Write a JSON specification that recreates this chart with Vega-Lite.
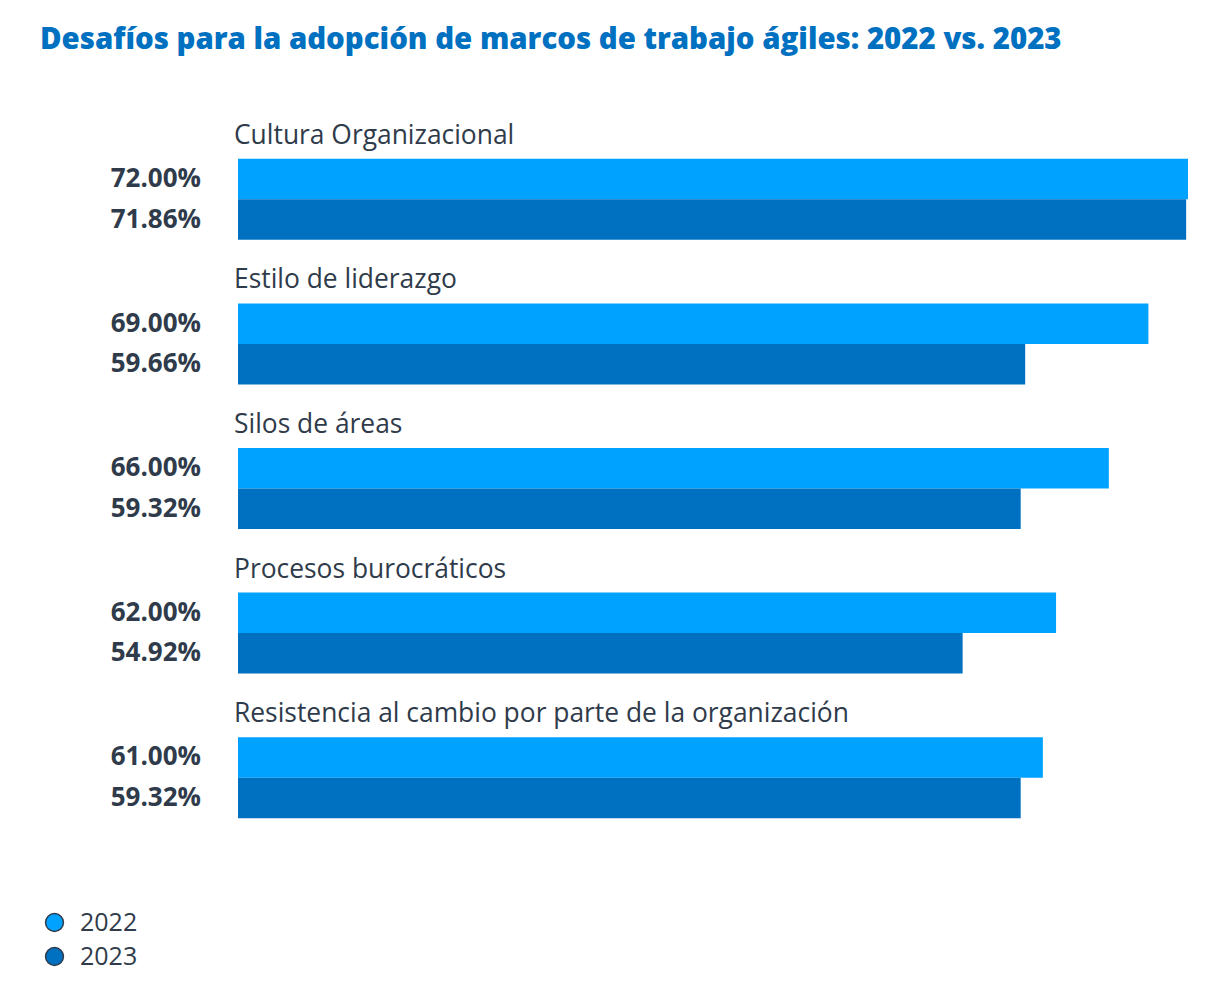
{
  "$schema": "https://vega.github.io/schema/vega-lite/v6.json",
  "width": 950,
  "height": 723,
  "autosize": "none",
  "padding": {"left": 238, "top": 127, "right": 30, "bottom": 157},
  "background": "white",
  "config": {"view": {"stroke": null}, "font": "Open Sans"},
  "title": {
    "text": "Desafíos para la adopción de marcos de trabajo ágiles: 2022 vs. 2023",
    "anchor": "start",
    "frame": "group",
    "dx": -198,
    "offset": 67,
    "fontSize": 29.4,
    "fontWeight": 800,
    "color": "#0070C0",
    "font": "Open Sans"
  },
  "data": {
    "values": [
      {"category": "Cultura Organizacional", "year": "2022", "value": 0.72},
      {"category": "Cultura Organizacional", "year": "2023", "value": 0.7186},
      {"category": "Estilo de liderazgo", "year": "2022", "value": 0.69},
      {"category": "Estilo de liderazgo", "year": "2023", "value": 0.5966},
      {"category": "Silos de áreas", "year": "2022", "value": 0.66},
      {"category": "Silos de áreas", "year": "2023", "value": 0.5932},
      {"category": "Procesos burocráticos", "year": "2022", "value": 0.62},
      {"category": "Procesos burocráticos", "year": "2023", "value": 0.5492},
      {"category": "Resistencia al cambio por parte de la organización", "year": "2022", "value": 0.61},
      {"category": "Resistencia al cambio por parte de la organización", "year": "2023", "value": 0.5932}
    ]
  },
  "encoding": {
    "y": {
      "field": "category",
      "type": "nominal",
      "sort": null,
      "axis": null,
      "scale": {"paddingInner": 0.44, "paddingOuter": 0.22}
    }
  },
  "layer": [
    {
      "mark": {"type": "bar"},
      "encoding": {
        "x": {
          "field": "value",
          "type": "quantitative",
          "axis": null,
          "scale": {"domain": [0, 0.72], "nice": false, "zero": true}
        },
        "yOffset": {
          "field": "year",
          "type": "nominal",
          "scale": {"paddingInner": 0, "paddingOuter": 0}
        },
        "color": {
          "field": "year",
          "type": "nominal",
          "scale": {"domain": ["2022", "2023"], "range": ["#00A2FF", "#0070C0"]},
          "legend": {
            "orient": "none",
            "legendX": -196,
            "legendY": 783,
            "title": null,
            "symbolType": "circle",
            "symbolSize": 320,
            "symbolStrokeColor": "#2F3B4A",
            "symbolStrokeWidth": 1.5,
            "symbolOpacity": 1,
            "labelFontSize": 25,
            "labelColor": "#2F3B4A",
            "labelFont": "Open Sans",
            "labelOffset": 13,
            "rowPadding": 8
          }
        }
      }
    },
    {
      "mark": {
        "type": "text",
        "align": "right",
        "baseline": "middle",
        "dx": -37,
        "fontSize": 26,
        "fontWeight": "bold",
        "color": "#2F3B4A",
        "font": "Open Sans"
      },
      "encoding": {
        "x": {"datum": 0},
        "yOffset": {
          "field": "year",
          "type": "nominal",
          "scale": {"paddingInner": 0, "paddingOuter": 0}
        },
        "text": {"field": "value", "type": "quantitative", "format": ".2%"}
      }
    },
    {
      "transform": [{"filter": "datum.year === '2022'"}],
      "mark": {
        "type": "text",
        "align": "left",
        "baseline": "alphabetic",
        "dx": -4,
        "dy": -15,
        "fontSize": 26.4,
        "color": "#2F3B4A",
        "font": "Open Sans"
      },
      "encoding": {
        "x": {"datum": 0},
        "y": {"field": "category", "type": "nominal", "sort": null, "bandPosition": 0},
        "text": {"field": "category"}
      }
    }
  ]
}
